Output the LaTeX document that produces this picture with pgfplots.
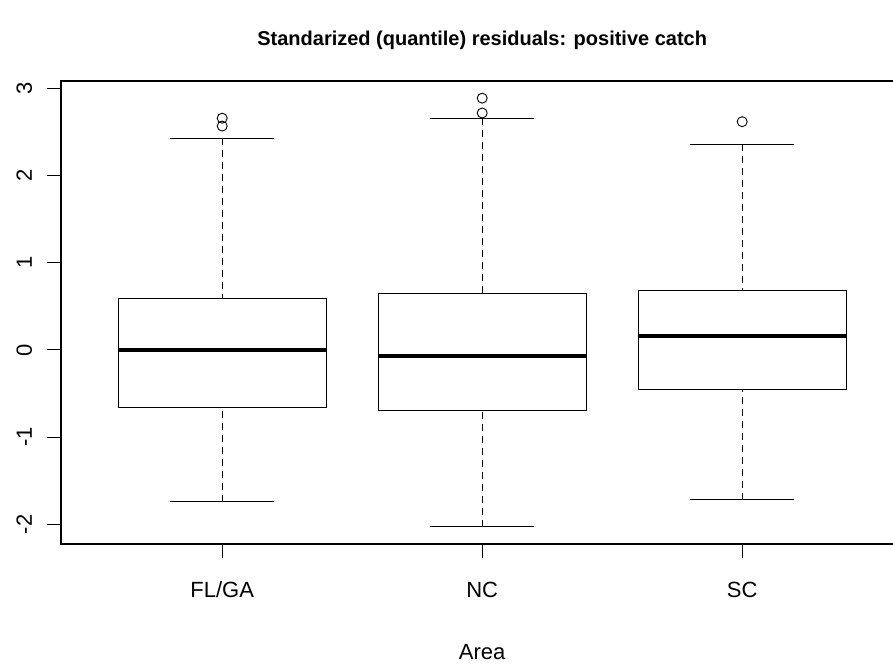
\documentclass[border=0pt]{standalone}
\usepackage{fontspec}
\setmainfont{Liberation Sans}
\usepackage{pgfplots}
\pgfplotsset{compat=1.18}
\usepgfplotslibrary{statistics}

% R-style whiskers: dashed stem, solid staple
\pgfplotsset{
  rbox/.style={
    black, solid, line width=1pt, mark=o, mark size=5pt,
    mark options={solid, line width=0.9pt},
    boxplot/draw direction=y,
    boxplot/box extend=0.8,
    boxplot/whisker extend=0.4,
    boxplot/every median/.style={line width=4.5pt},
    boxplot/draw/lower whisker/.code={%
      \draw[dash pattern=on 7pt off 5pt]
        (boxplot whisker cs:\pgfplotsboxplotvalue{lower whisker},0.5) --
        (boxplot box cs:\pgfplotsboxplotvalue{lower quartile},0.5);
      \draw (boxplot whisker cs:\pgfplotsboxplotvalue{lower whisker},0) --
        (boxplot whisker cs:\pgfplotsboxplotvalue{lower whisker},1);
    },
    boxplot/draw/upper whisker/.code={%
      \draw[dash pattern=on 7pt off 5pt]
        (boxplot whisker cs:\pgfplotsboxplotvalue{upper whisker},0.5) --
        (boxplot box cs:\pgfplotsboxplotvalue{upper quartile},0.5);
      \draw (boxplot whisker cs:\pgfplotsboxplotvalue{upper whisker},0) --
        (boxplot whisker cs:\pgfplotsboxplotvalue{upper whisker},1);
    },
  },
}

\begin{document}
\begin{tikzpicture}
\begin{axis}[
  at={(61pt,120pt)}, anchor=south west,
  scale only axis, width=842.4pt, height=463pt,
  xmin=0.38, xmax=3.62, ymin=-2.227, ymax=3.087,
  xtick={1,2,3}, xticklabels={FL/GA,NC,SC},
  ytick={-2,-1,0,1,2,3}, yticklabels={-2,-1,0,1,2,3},
  xtick pos=lower, ytick pos=left,
  tick align=outside, major tick length=14pt,
  tick style={black, line width=1pt},
  axis line style={line width=1.2pt},
  ticklabel style={font=\fontsize{22}{26}\selectfont},
  xticklabel style={anchor=base, yshift=-39pt},
  yticklabel style={xshift=-15pt, rotate=90, anchor=base},
  xlabel={Area},
  xlabel style={font=\fontsize{22}{26}\selectfont, at={(0.5,0)}, anchor=base, yshift=-115pt},
  title={Standarized (quantile) residuals: positive catch},
  title style={font=\fontsize{20}{24}\selectfont\bfseries, at={(0.5,1)}, anchor=base, yshift=29pt},
]
\addplot[rbox, boxplot prepared={draw position=1,
  lower whisker=-1.74, lower quartile=-0.66, median=0.00,
  upper quartile=0.59, upper whisker=2.43}]
  coordinates {(0,2.57) (0,2.66)};
\addplot[rbox, boxplot prepared={draw position=2,
  lower whisker=-2.03, lower quartile=-0.70, median=-0.07,
  upper quartile=0.65, upper whisker=2.66}]
  coordinates {(0,2.72) (0,2.89)};
\addplot[rbox, boxplot prepared={draw position=3,
  lower whisker=-1.72, lower quartile=-0.45, median=0.16,
  upper quartile=0.68, upper whisker=2.36}]
  coordinates {(0,2.62)};
\end{axis}
\pgfresetboundingbox
\useasboundingbox (0,0) rectangle (893pt,664pt);
\end{tikzpicture}
\end{document}
